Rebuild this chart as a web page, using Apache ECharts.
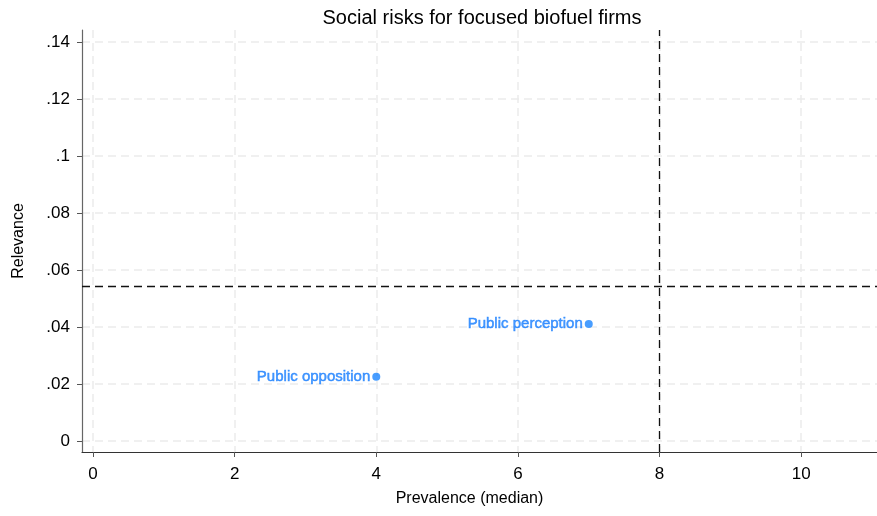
<!DOCTYPE html>
<html><head><meta charset="utf-8">
<script src="https://cdn.jsdelivr.net/npm/echarts@6/dist/echarts.min.js"></script>
<style>html,body{margin:0;padding:0;background:#fff}#c{width:877px;height:516px}</style>
</head><body><div id="c"></div>
<script>
const names = ['Public opposition', 'Public perception'];
const prevalence = [4, 7];
const relevance = [0.0225, 0.041];
const xTicks = [0, 2, 4, 6, 8, 10];
const yTicks = [0, 0.02, 0.04, 0.06, 0.08, 0.10, 0.12, 0.14];
const refX = 8;
const refY = 0.0544;

const fmtY = v => {
  if (Math.abs(v) < 1e-9) return '0';
  let s = (+v.toFixed(4)).toString();
  return s.replace(/^0\./, '.');
};

const chart = echarts.init(document.getElementById('c'));
const font = '"Liberation Sans", Arial, sans-serif';
chart.setOption({
  animation: false,
  title: {text: 'Social risks for focused biofuel firms', left: 477, top: 3, textAlign: 'center',
    textStyle: {fontFamily: font, fontSize: 20, fontWeight: 'normal', color: '#000'}},
  grid: {left: 82, right: 0, top: 30, bottom: 64, containLabel: false, outerBoundsMode: 'none'},
  xAxis: {type: 'value', min: -0.155, max: 11.07,
    name: 'Prevalence (median)', nameLocation: 'middle', nameGap: 39,
    nameTextStyle: {fontFamily: font, fontSize: 16, color: '#000', padding: [0, 20, 0, 0]},
    axisLine: {show: true, onZero: false, lineStyle: {color: '#333', width: 1.2}},
    axisTick: {show: true, length: 5, customValues: xTicks, lineStyle: {color: '#555'}},
    axisLabel: {customValues: xTicks, fontFamily: font, fontSize: 17, color: '#000', margin: 14},
    splitLine: {show: true, lineStyle: {color: '#ececec', type: [8, 5], width: 1.5}}},
  yAxis: {type: 'value', min: -0.0039, max: 0.1442,
    name: 'Relevance', nameLocation: 'middle', nameGap: 55, nameRotate: 90,
    nameTextStyle: {fontFamily: font, fontSize: 16, color: '#000'},
    axisLine: {show: true, onZero: false, lineStyle: {color: '#666', width: 1.2}},
    axisTick: {show: true, length: 5, customValues: yTicks, lineStyle: {color: '#555'}},
    axisLabel: {customValues: yTicks, formatter: fmtY, fontFamily: font, fontSize: 17, color: '#000', margin: 12},
    splitLine: {show: true, lineStyle: {color: '#ececec', type: [8, 5], width: 1.5}}},
  series: [{
    type: 'scatter', symbolSize: 8,
    itemStyle: {color: '#1a85ff'},
    data: names.map((n, i) => ({name: n, value: [prevalence[i], relevance[i]]})),
    label: {show: true, position: 'left', distance: 2, formatter: p => p.name,
      fontFamily: font, fontSize: 15, color: '#1a80ff',
      textBorderColor: '#1a80ff', textBorderWidth: 0.5},
    markLine: {silent: true, symbol: 'none', precision: 5, label: {show: false},
      lineStyle: {color: '#111', type: [8, 5], width: 1.3},
      data: [{xAxis: refX}, {yAxis: refY}]}
  }]
});
</script></body></html>
